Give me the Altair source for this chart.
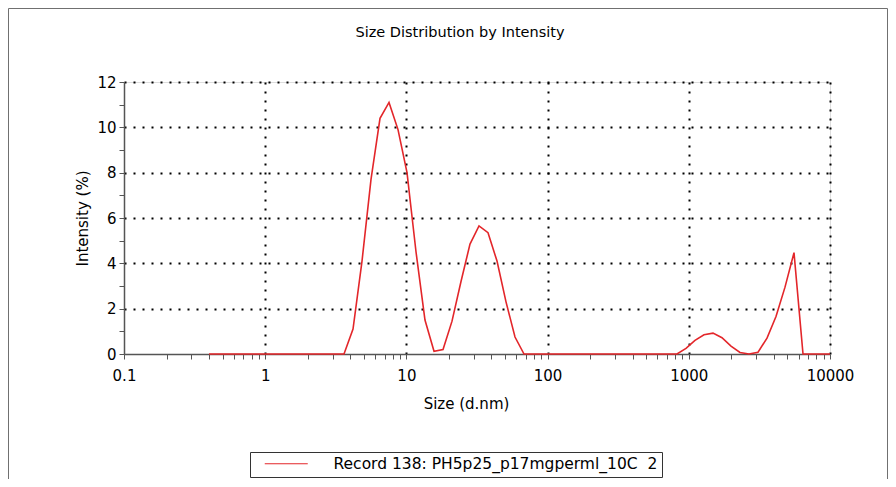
import altair as alt
import pandas as pd

# Instrument size classes (d.nm), 70 log-spaced bins
sizes = [0.4, 0.4632, 0.5365, 0.6213, 0.7195, 0.8332, 0.9649, 1.117, 1.294, 1.499,
         1.736, 2.01, 2.328, 2.696, 3.122, 3.615, 4.187, 4.849, 5.615, 6.503,
         7.531, 8.721, 10.1, 11.7, 13.54, 15.69, 18.17, 21.04, 24.36, 28.21,
         32.67, 37.84, 43.82, 50.75, 58.77, 68.06, 78.82, 91.28, 105.7, 122.4,
         141.8, 164.2, 190.1, 220.2, 255.0, 295.3, 342.0, 396.1, 458.7, 531.2,
         615.1, 712.4, 825.0, 955.4, 1106, 1281, 1484, 1718, 1990, 2305,
         2669, 3091, 3580, 4145, 4801, 5560, 6439, 7456, 8635, 10000]

intensity = [0, 0, 0, 0, 0, 0, 0, 0, 0, 0,
             0, 0, 0, 0, 0, 0, 1.1, 4.1, 7.7, 10.4,
             11.1, 9.9, 8.0, 4.5, 1.5, 0.12, 0.2, 1.45, 3.2, 4.85,
             5.65, 5.35, 4.1, 2.3, 0.75, 0, 0, 0, 0, 0,
             0, 0, 0, 0, 0, 0, 0, 0, 0, 0,
             0, 0, 0, 0.25, 0.6, 0.85, 0.92, 0.72, 0.35, 0.07,
             0, 0.08, 0.7, 1.65, 2.95, 4.47, 0, 0, 0, 0]

record = "Record 138: PH5p25_p17mgperml_10C \u00a02"
chart_title = "Size Distribution by Intensity"

x_ticks = [0.1, 0.2, 0.3, 0.4, 0.5, 0.6, 0.7, 0.8, 0.9,
           1, 2, 3, 4, 5, 6, 7, 8, 9,
           10, 20, 30, 40, 50, 60, 70, 80, 90,
           100, 200, 300, 400, 500, 600, 700, 800, 900,
           1000, 2000, 3000, 4000, 5000, 6000, 7000, 8000, 9000, 10000]
x_labels = [0.1, 1, 10, 100, 1000, 10000]
y_ticks = [0, 1, 2, 3, 4, 5, 6, 7, 8, 9, 10, 11, 12]

df = pd.DataFrame({"size": sizes, "intensity": intensity, "record": [record] * len(sizes)})

FONT = "DejaVu Sans"
lab_arr = "[" + ",".join(str(v) for v in x_labels) + "]"

x_axis = alt.Axis(
    values=x_ticks,
    labelExpr=f"indexof({lab_arr}, datum.value) >= 0 ? format(datum.value, '~g') : ''",
    labelOverlap=False, labelFlush=False,
    labelFont=FONT, labelFontSize=15, labelColor="black", labelPadding=9,
    title="Size (d.nm)", titleFont=FONT, titleFontSize=15, titleFontWeight="normal",
    titleColor="black", titlePadding=13, titleX=342,
    tickSize=5, tickColor="#555", domainColor="#555", domainWidth=1.5,
    grid=True, gridColor="black", gridWidth=2, gridDash=[2, 7],
    gridOpacity={"condition": {"test": f"indexof({lab_arr}, datum.value) > 0", "value": 1}, "value": 0},
)

y_axis = alt.Axis(
    values=y_ticks,
    labelExpr="datum.value % 2 == 0 ? datum.label : ''",
    labelFont=FONT, labelFontSize=15, labelColor="black", labelPadding=3,
    title="Intensity (%)", titleFont=FONT, titleFontSize=15, titleFontWeight="normal",
    titleColor="black", titlePadding=6,
    tickSize=5, tickColor="#555", domainColor="#555", domainWidth=1.5,
    grid=True, gridColor="black", gridWidth=2, gridDash=[2, 7],
    gridOpacity={"condition": {"test": "datum.value % 2 == 0 && datum.value > 0", "value": 1}, "value": 0},
)

line = alt.Chart(df).mark_line(strokeWidth=1.6).encode(
    x=alt.X("size:Q", scale=alt.Scale(type="log", domain=[0.1, 10000], nice=False), axis=x_axis),
    y=alt.Y("intensity:Q", scale=alt.Scale(domain=[0, 12], nice=False), axis=y_axis),
    color=alt.Color(
        "record:N",
        scale=alt.Scale(range=["#e3262a"]),
        legend=alt.Legend(
            title=None, orient="none", legendX=126, legendY=370,
            strokeColor="#333", fillColor="white", padding=4, cornerRadius=0,
            symbolType="M-4.3,0H4.3", symbolSize=100, symbolStrokeWidth=1.2, symbolOffset=24.5,
            labelFont=FONT, labelFontSize=15.5, labelColor="black", labelOffset=39.5, labelLimit=600,
        ),
    ),
)

frame = alt.Chart(pd.DataFrame({"a": [0]})).mark_rect(
    filled=False, stroke="#707070", strokeWidth=1
).encode(
    x=alt.value(-115.5), x2=alt.value(763.5), y=alt.value(-73.5), y2=alt.value(420)
)

title = alt.Chart(pd.DataFrame({"t": [chart_title]})).mark_text(
    font=FONT, fontSize=14.5, color="black", align="center", baseline="middle"
).encode(text="t:N", x=alt.value(336), y=alt.value(-49))

chart = alt.layer(frame, title, line).properties(
    width=706, height=272,
    autosize=alt.AutoSizeParams(type="none"),
    padding={"left": 116, "top": 74, "right": 58, "bottom": 125},
).configure_view(stroke=None).configure(background="white")

chart.save("out.html", embed_options={"renderer": "svg", "actions": False})
